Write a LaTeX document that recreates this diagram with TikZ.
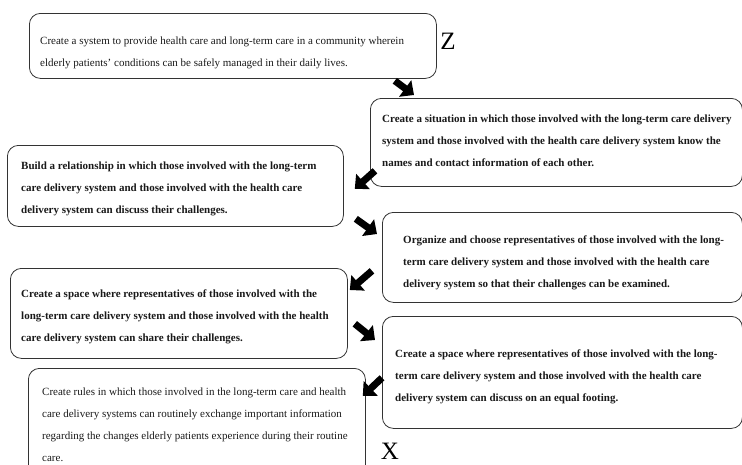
\documentclass[tikz,border=0pt]{standalone}
\usepackage{fontspec}
\setmainfont{Liberation Serif}
\usetikzlibrary{arrows.meta}
\tikzset{
  box/.style={draw=black!80, line width=0.8pt, rounded corners=11pt, anchor=north west, inner sep=0pt},
  txt/.style={anchor=north west, inner sep=0pt, align=left, font=\fontsize{11}{22}\selectfont, text=black!90},
  btxt/.style={txt, font=\fontsize{11}{22}\selectfont\bfseries},
  bigarrow/.style={line width=7pt, -{Triangle[length=11pt,width=20pt]}, black},
  letter/.style={font=\fontsize{25}{25}\selectfont, inner sep=0pt}
}
\begin{document}
\begin{tikzpicture}[x=1pt,y=-1pt]
\useasboundingbox (0,0) rectangle (742,464);
\clip (0,0) rectangle (742,464);
% boxes
\node[box, minimum width=407pt, minimum height=65pt] (b1) at (29,13) {};
\node[box, minimum width=372pt, minimum height=88pt] (b2) at (370,98) {};
\node[box, minimum width=336pt, minimum height=81pt] (b3) at (7,145) {};
\node[box, minimum width=360pt, minimum height=90pt] (b4) at (382,212) {};
\node[box, minimum width=337pt, minimum height=90pt] (b5) at (10,268) {};
\node[box, minimum width=360pt, minimum height=112pt] (b6) at (382,316) {};
\node[box, minimum width=337pt, minimum height=112pt] (b7) at (28,368) {};
% texts
\node[txt] (t1) at (40,37) {Create a system to provide health care and long-term care in a community wherein\\elderly patients' conditions can be safely managed in their daily lives.};
\node[btxt] (t2) at (382,115) {Create a situation in which those involved with the long-term care delivery\\system and those involved with the health care delivery system know the\\names and contact information of each other.};
\node[btxt] (t3) at (21,162) {Build a relationship in which those involved with the long-term\\care delivery system and those involved with the health care\\delivery system can discuss their challenges.};
\node[btxt] (t4) at (403,236) {Organize and choose representatives of those involved with the long-\\term care delivery system and those involved with the health care\\delivery system so that their challenges can be examined.};
\node[btxt] (t5) at (21,290) {Create a space where representatives of those involved with the\\long-term care delivery system and those involved with the health\\care delivery system can share their challenges.};
\node[btxt] (t6) at (395,350) {Create a space where representatives of those involved with the long-\\term care delivery system and those involved with the health care\\delivery system can discuss on an equal footing.};
\node[txt] (t7) at (42,388) {Create rules in which those involved in the long-term care and health\\care delivery systems can routinely exchange important information\\regarding the changes elderly patients experience during their routine\\care.};
% letters
\node[letter] (z) at (448,41) {Z};
\node[letter] (x) at (390,451) {X};
% arrows
\draw[bigarrow] ([shift={(-42,2)}]b1.south east) -- ([shift={(44,-3)}]b2.north west);
\draw[bigarrow] ([shift={(5,-16)}]b2.south west) -- ([shift={(11,-38)}]b3.south east);
\draw[bigarrow] ([shift={(12,-8)}]b3.south east) -- ([shift={(-5,22)}]b4.north west);
\draw[bigarrow] ([shift={(-10,-32)}]b4.south west) -- ([shift={(2,22)}]b5.north east);
\draw[bigarrow] ([shift={(7,-35)}]b5.south east) -- ([shift={(-7,24)}]b6.north west);
\draw[bigarrow] ([shift={(0,-51)}]b6.south west) -- ([shift={(-3,28)}]b7.north east);
\end{tikzpicture}
\end{document}
